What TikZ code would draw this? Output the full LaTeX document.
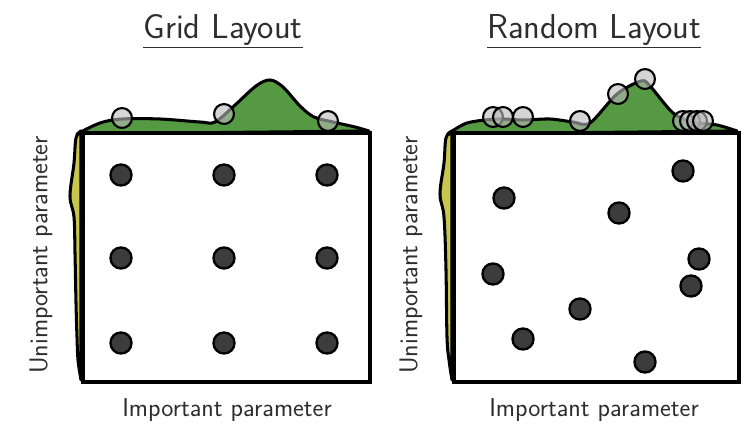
\documentclass[tikz,border=0pt]{standalone}
\usepackage{tikz}
\definecolor{densgreen}{HTML}{559A42}
\definecolor{densyellow}{HTML}{C9C64E}
\definecolor{dotgray}{HTML}{3C3C3C}
\definecolor{txtgray}{HTML}{2E2E2E}
\begin{document}
\begin{tikzpicture}[x=0.03cm,y=-0.03cm,
  dens/.style={draw=black, line width=2.6pt, line join=round},
  frame/.style={draw=black, fill=white, line width=3.2pt, inner sep=0pt},
  dot/.style={circle, draw=black, fill=dotgray, line width=2pt, minimum size=18pt, inner sep=0pt},
  proj/.style={circle, draw=black, fill=gray!55, fill opacity=0.6, line width=1.8pt, minimum size=17pt, inner sep=0pt},
  ttl/.style={font=\sffamily\fontsize{29.5}{32}\selectfont, text=txtgray, inner sep=0pt},
  lbl/.style={font=\sffamily\fontsize{22}{26}\selectfont, text=txtgray, inner sep=0pt}]
\useasboundingbox (0,0) rectangle (747,431);
% ---------- left panel ----------
\filldraw[dens, fill=densyellow] plot[smooth, tension=0.6] coordinates {(81,131) (76,138) (74,163) (70,196) (74,217) (75,253) (76,303) (77,337) (78,360) (81,380)} -- cycle;
\filldraw[dens, fill=densgreen] plot[smooth, tension=0.55] coordinates {(77,134) (100,123) (122,119) (160,119) (200,122) (215,122) (234,106) (256,86) (270,80) (283,87) (300,106) (314,117) (333,122) (355,127) (369,131)} -- cycle;
\node[frame, minimum width=287*0.03cm, minimum height=249*0.03cm, anchor=north west] (boxL) at (81,131) {};
\foreach \n/\x/\y in {1/121/175,2/224/175,3/327/175,4/121/258,5/224/258,6/327/258,7/121/343,8/224/343,9/327/343}
  \node[dot] (g\n) at (\x,\y) {};
\node[proj] (gp1) at (122,118) {};
\node[proj] (gp2) at (224,114) {};
\node[proj] (gp3) at (328,121) {};
\node[ttl] (tL) at (223,31) {\underline{Grid Layout}};
\node[lbl] (xL) at (227,410) {Important parameter};
\node[lbl, rotate=90] (yL) at (41,255) {Unimportant parameter};
% ---------- right panel ----------
\filldraw[dens, fill=densyellow] plot[smooth, tension=0.6] coordinates {(452,131) (446,138) (444,163) (440,194) (444,217) (446,270) (447,337) (449,360) (452,380)} -- cycle;
\filldraw[dens, fill=densgreen] plot[smooth, tension=0.5] coordinates {(448,134) (467,123) (497,119) (523,120) (550,119) (573,122) (590,123) (617,94) (641,81) (650,86) (673,113) (693,122) (717,125) (737,131)} -- cycle;
\node[frame, minimum width=285*0.03cm, minimum height=249*0.03cm, anchor=north west] (boxR) at (452,131) {};
\foreach \n/\x/\y in {1/683/171,2/504/198,3/619/213,4/493/274,5/699/259,6/691/286,7/580/309,8/523/339,9/645/362}
  \node[dot] (r\n) at (\x,\y) {};
\foreach \n/\x/\y in {1/493/117,2/503/117,3/523/117,4/580/121,5/618/94,6/645/79,7/683/121,8/690/121,9/697/121,10/703/121}
  \node[proj] (rp\n) at (\x,\y) {};
\node[ttl] (tR) at (594,31) {\underline{Random Layout}};
\node[lbl] (xR) at (594,410) {Important parameter};
\node[lbl, rotate=90] (yR) at (411,255) {Unimportant parameter};
\end{tikzpicture}
\end{document}
